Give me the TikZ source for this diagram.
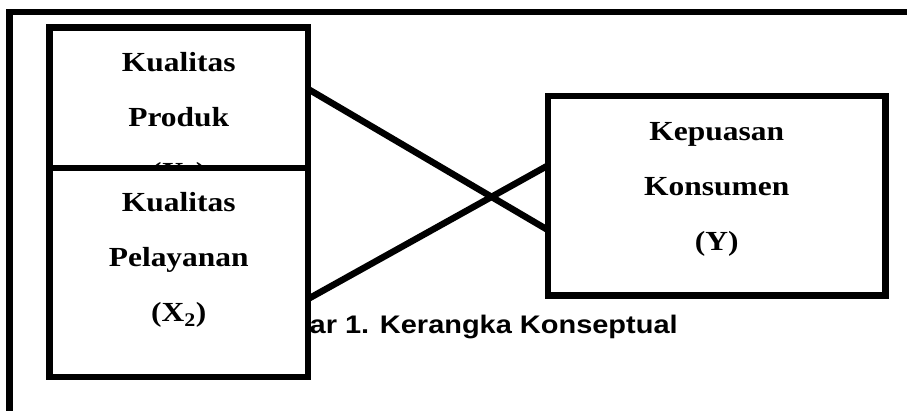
\documentclass[tikz,border=0pt]{standalone}
\usepackage{fontspec}
\setmainfont{Liberation Serif}
\newfontfamily\capfont{Liberation Sans}
\usetikzlibrary{positioning}

\begin{document}
\begin{tikzpicture}[x=1pt, y=1pt, line width=6.5pt,
    varbox/.style={draw, fill=white, rectangle, outer sep=0pt, inner sep=0pt},
    xbox/.style={varbox, minimum width=258.5pt, minimum height=209pt},
    vartext/.style={inner sep=0pt, align=center, xscale=1.14, transform shape,
      font=\fontsize{27.6}{55}\selectfont\bfseries},
    captext/.style={inner sep=0pt, anchor=base west, xscale=1.14, transform shape,
      font=\capfont\fontsize{25.4}{30}\selectfont\bfseries}]
    \useasboundingbox (0,0) rectangle (907,410);
    \clip (0,0) rectangle (907,410);
    \draw (9.3,-20) rectangle (940,397.8);

    \node[xbox] (x1) at (178.75,278.2) {};
    \node[vartext, below=21.5pt of x1.north] (t1) {Kualitas\\Produk\\(X\textsubscript{1})};
    \node[captext] (cap) at (306,77) {ar 1. Kerangka Konseptual};
    \node[xbox] (x2) at (178.75,137.5) {};
    \node[vartext, below=21.5pt of x2.north] (t2) {Kualitas\\Pelayanan\\(X\textsubscript{2})};
    \node[varbox, minimum width=337.5pt, minimum height=199.5pt] (ky) at (716.75,214.25) {};
    \node[vartext, below=23pt of ky.north] (ty) {Kepuasan\\Konsumen\\(Y)};

    \draw ([yshift=-61.7pt]x1.north east) -- ([yshift=-34.3pt]ky.west);
    \draw ([yshift=-131pt]x2.north east) -- ([yshift=30.3pt]ky.west);
\end{tikzpicture}
\end{document}
